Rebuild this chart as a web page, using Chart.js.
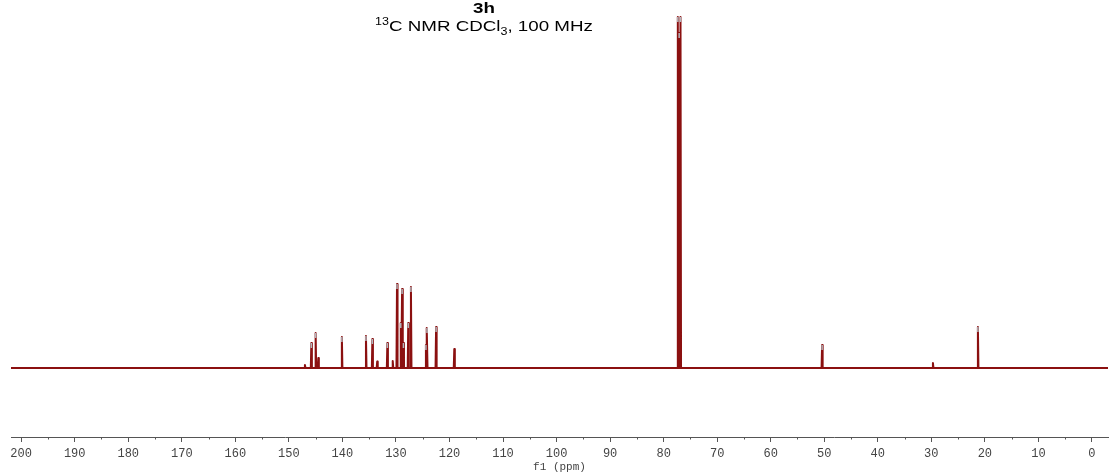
<!DOCTYPE html>
<html>
<head>
<meta charset="utf-8">
<script src="https://cdn.jsdelivr.net/npm/chart.js@4.4.1/dist/chart.umd.min.js"></script>
<style>
  html, body { margin: 0; padding: 0; background: #fff; }
  #wrap { position: relative; width: 1110px; height: 474px; }
  .ttl { position: absolute; left: 484px; transform: translateX(-50%) scaleX(1.25); white-space: nowrap;
         font-family: "Liberation Sans", Arial, sans-serif; font-size: 15px; line-height: 17px; color: #000; }
  #t1 { top: -1px; font-weight: bold; }
  #t2 { top: 17px; }
  #t2 sup, #t2 sub { font-size: 10px; line-height: 0; }
</style>
</head>
<body>
<div id="wrap">
  <canvas id="nmr" width="1110" height="474"></canvas>
  <div class="ttl" id="t1">3h</div>
  <div class="ttl" id="t2"><sup>13</sup>C NMR CDCl<sub>3</sub>, 100 MHz</div>
</div>
<script>
/* ---------- data ---------- */
const peakPpm = [147.0, 145.8, 145.0, 144.5, 140.1, 135.6, 134.4, 133.5, 131.6, 130.6,
                 129.8, 129.1, 128.85, 128.6, 127.7, 127.2, 124.4, 124.2, 122.5, 119.1,
                 77.35, 77.1, 76.85, 50.4, 29.7, 21.3];
const peakHeight = [3, 25, 35, 10, 31, 32, 29, 6.5, 25, 7,
                    84, 45, 79, 25, 45, 81, 23, 40, 41, 19,
                    351, 335, 351, 23, 5, 41];
const axisMin = -3, axisMax = 201.9;      // ppm shown
const halfWidth = 0.1;                    // line half width, ppm
const majorStep = 10, minorStep = 5;

const RED = "#8b1010";
const AXIS = "#555";

/* spectrum line: baseline + one narrow line per peak */
function buildSpectrum() {
  const order = peakPpm.map((p, i) => i).sort((a, b) => peakPpm[b] - peakPpm[a]);
  const pts = [{ x: axisMax, y: 0 }];
  order.forEach((i) => {
    pts.push({ x: peakPpm[i] + halfWidth, y: 0 });
    pts.push({ x: peakPpm[i], y: peakHeight[i] });
    pts.push({ x: peakPpm[i] - halfWidth, y: 0 });
  });
  pts.push({ x: axisMin, y: 0 });
  return pts;
}

/* small grey peak-pick marks on top of the picked lines */
const peakMarks = {
  id: "peakMarks",
  afterDatasetsDraw(ch) {
    const g = ch.ctx, sx = ch.scales.x, sy = ch.scales.y;
    g.save();
    g.strokeStyle = "#b4b6bc"; g.lineWidth = 1.5;
    peakPpm.forEach((p, i) => {
      if (peakHeight[i] < 20) return;
      const x = sx.getPixelForValue(p), y = sy.getPixelForValue(peakHeight[i]);
      g.beginPath(); g.moveTo(x, y); g.lineTo(x, y + 5); g.stroke();
    });
    g.restore();
  },
};

/* short minor ticks (Chart.js draws the long ones) */
const minorTicks = {
  id: "minorTicks",
  afterDraw(ch) {
    const g = ch.ctx, sx = ch.scales.x, bottom = ch.chartArea.bottom;
    g.save();
    g.strokeStyle = AXIS; g.lineWidth = 1;
    sx.ticks.forEach((t) => {
      if (t.value % majorStep === 0) return;
      const x = Math.round(sx.getPixelForValue(t.value)) + 0.5;
      g.beginPath(); g.moveTo(x, bottom); g.lineTo(x, bottom + 2.5); g.stroke();
    });
    g.restore();
  },
};

new Chart(document.getElementById("nmr"), {
  type: "line",
  data: {
    datasets: [{
      data: buildSpectrum(),
      borderColor: RED, borderWidth: 2, borderJoinStyle: "round",
      pointRadius: 0, tension: 0, fill: false,
    }],
  },
  options: {
    responsive: false, animation: false, devicePixelRatio: 1,
    layout: { padding: { left: 11, right: 2, top: 0, bottom: 0 } },
    plugins: { legend: { display: false }, tooltip: { enabled: false } },
    scales: {
      x: {
        type: "linear", reverse: true, min: axisMin, max: axisMax,
        border: { display: true, color: AXIS, width: 1 },
        grid: {
          drawOnChartArea: false, drawTicks: true, tickLength: 5,
          tickColor: (c) => (c.tick && c.tick.value % majorStep === 0 ? AXIS : "rgba(0,0,0,0)"),
        },
        ticks: {
          stepSize: minorStep, includeBounds: false, autoSkip: false, maxRotation: 0,
          padding: 6, color: "#444",
          font: { family: "'Liberation Mono', monospace", size: 12, lineHeight: 1 },
          callback: (v) => (v % majorStep === 0 ? String(v) : ""),
        },
        title: {
          display: true, text: "f1 (ppm)", color: "#444", padding: { top: -5.1, bottom: 1 },
          font: { family: "'Liberation Mono', monospace", size: 11, lineHeight: 1.1 },
        },
      },
      y: { display: false, min: -69, max: 368 },
    },
  },
  plugins: [peakMarks, minorTicks],
});
</script>
</body>
</html>
